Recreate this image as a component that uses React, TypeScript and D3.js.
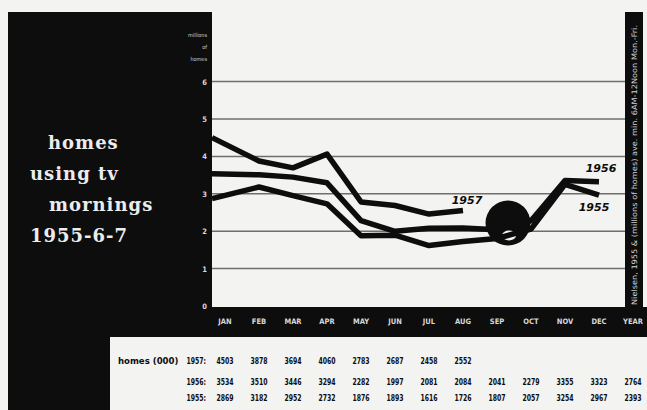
import React from "react";
import * as d3 from "d3";

const months = ["JAN", "FEB", "MAR", "APR", "MAY", "JUN", "JUL", "AUG", "SEP", "OCT", "NOV", "DEC"];
const columns = [...months, "YEAR"];
const v1957 = [4503, 3878, 3694, 4060, 2783, 2687, 2458, 2552];
const v1956 = [3534, 3510, 3446, 3294, 2282, 1997, 2081, 2084, 2041, 2279, 3355, 3323];
const v1955 = [2869, 3182, 2952, 2732, 1876, 1893, 1616, 1726, 1807, 2057, 3254, 2967];
const yearAvg: Record<string, number | null> = { "1957": null, "1956": 2764, "1955": 2393 };
const yTicks = [0, 1, 2, 3, 4, 5, 6];
const titleLines = ["homes", "using tv", "mornings", "1955-6-7"];

const W = 647, H = 410;
const INK = "#0d0d0d";
const PAPER = "#f3f3f1";

export default function App() {
  const y = d3.scaleLinear().domain([0, 6]).range([306, 81.6]);
  const xCol = d3.scalePoint<string>().domain(columns).range([225, 633]);
  const xData = d3.scaleLinear().domain([0, 1, 11]).range([212, 259, 599]);
  const line = d3
    .line<number>()
    .x((_, i) => xData(i))
    .y((d) => y(d / 1000))
    .curve(d3.curveLinear);

  const series = [
    { year: "1957", values: v1957 },
    { year: "1956", values: v1956 },
    { year: "1955", values: v1955 },
  ];
  const rowY = [364, 385, 401];
  const condensed = "'DejaVu Sans Condensed', 'DejaVu Sans', sans-serif";

  const cell = (key: string, x: number, yy: number, s: string | number, anchor: string, sx = 0.72) => (
    <g key={key} transform={`translate(${x},${yy}) scale(${sx},1)`}>
      <text x={0} y={0} textAnchor={anchor} fill={INK} fontSize={9.5} fontWeight="bold"
        fontFamily={condensed}>{s}</text>
    </g>
  );

  return (
    <svg width={W} height={H} style={{ position: "absolute", left: 0, top: 0, background: PAPER }}>
      <rect x={0} y={0} width={W} height={H} fill={PAPER} />
      {/* black panels */}
      <rect x={8} y={12} width={204} height={295} fill={INK} />
      <rect x={8} y={307} width={639} height={30} fill={INK} />
      <rect x={625} y={12} width={18} height={325} fill={INK} />
      <rect x={8} y={337} width={102} height={73} fill={INK} />

      {/* gridlines */}
      {yTicks.filter((t) => t > 0).map((t) => (
        <line key={t} x1={212} x2={625} y1={y(t)} y2={y(t)} stroke="#6e6e6e" strokeWidth={1.5} />
      ))}

      {/* y labels */}
      {yTicks.map((t) => (
        <text key={t} x={207} y={y(t) + 3} textAnchor="end" fill="#d8d8d8" fontSize={7.5}
          fontFamily={condensed} fontWeight="bold">{t}</text>
      ))}
      {["millions", "of", "homes"].map((s, i) => (
        <text key={s} x={207} y={37 + i * 12} textAnchor="end" fill="#cfcfcf" fontSize={5.5}
          fontFamily={condensed}>{s}</text>
      ))}

      {/* title */}
      {titleLines.map((s, i) => (
        <text key={s} x={[48, 30, 49, 30][i]} y={149 + i * 31} fill="#ececec" fontSize={18}
          fontWeight="bold" fontFamily="'DejaVu Serif', serif" letterSpacing={1}>{s}</text>
      ))}

      {/* decorative circle */}
      <circle cx={508} cy={223} r={22.5} fill={INK} />
      <ellipse cx={509} cy={235.5} rx={7} ry={5} fill={PAPER} />

      {/* lines */}
      {series.map((s) => (
        <path key={s.year} d={line(s.values) || ""} fill="none" stroke={INK} strokeWidth={5.5}
          strokeLinejoin="round" strokeLinecap="butt" />
      ))}

      {/* line labels */}
      <text x={467} y={204} textAnchor="middle" fontSize={11} fontWeight="bold" fontStyle="italic"
        fontFamily="'DejaVu Sans', sans-serif" fill={INK}>1957</text>
      <text x={601} y={172} textAnchor="middle" fontSize={11} fontWeight="bold" fontStyle="italic"
        fontFamily="'DejaVu Sans', sans-serif" fill={INK}>1956</text>
      <text x={594} y={211} textAnchor="middle" fontSize={11} fontWeight="bold" fontStyle="italic"
        fontFamily="'DejaVu Sans', sans-serif" fill={INK}>1955</text>

      {/* x labels */}
      {columns.map((m) => (
        <text key={m} x={xCol(m)} y={324} textAnchor="middle" fill="#d8d8d8" fontSize={7.5}
          fontWeight="bold" fontFamily={condensed}>{m}</text>
      ))}

      {/* right vertical note */}
      <text transform="translate(637,305) rotate(-90)" fill="#d0d0d0" fontSize={7.5}
        fontFamily={condensed} textLength={280} lengthAdjust="spacingAndGlyphs">
        Nielsen, 1955 & (millions of homes) ave. min. 6AM-12Noon Mon.-Fri.
      </text>

      {/* table */}
      {cell("hdr", 118, rowY[0], "homes (000)", "start", 1)}
      {series.map((r, ri) => (
        <g key={r.year}>
          {cell("y" + r.year, 206, rowY[ri], r.year + ":", "end")}
          {r.values.map((v, i) => cell(r.year + "-" + i, xCol(months[i]) as number, rowY[ri], v, "middle"))}
          {yearAvg[r.year] != null &&
            cell(r.year + "-yr", xCol("YEAR") as number, rowY[ri], yearAvg[r.year] as number, "middle")}
        </g>
      ))}
    </svg>
  );
}
